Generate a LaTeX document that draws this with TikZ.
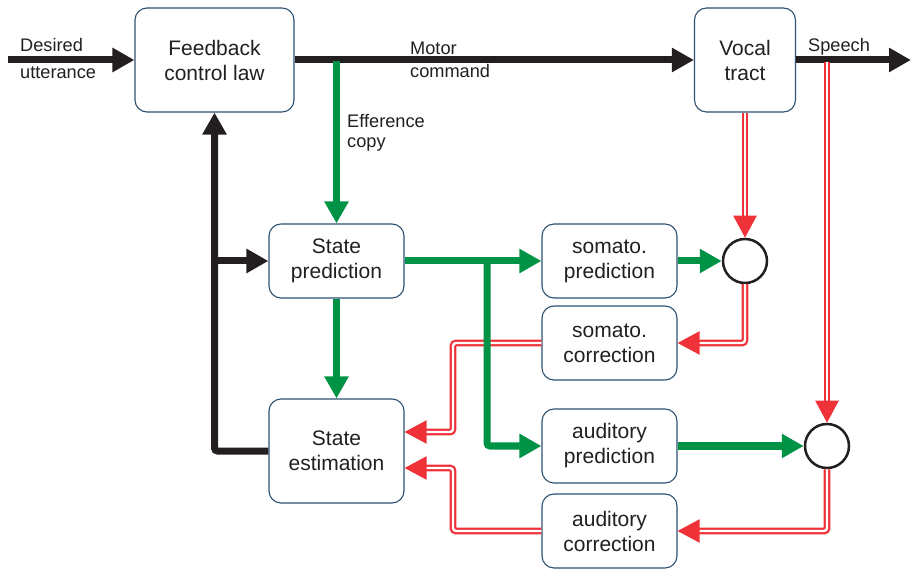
\documentclass[tikz,border=0pt]{standalone}
\usepackage{fontspec}
\setmainfont{Liberation Sans}
\usetikzlibrary{arrows.meta}
\definecolor{ink}{RGB}{35,31,32}
\definecolor{grn}{RGB}{0,146,69}
\definecolor{rd}{RGB}{238,50,56}
\definecolor{bord}{RGB}{45,80,115}
\begin{document}
\begin{tikzpicture}[x=1pt,y=-1pt,
 box/.style={draw=bord, line width=1.1pt, rounded corners=12pt, fill=white, text=ink, align=center, font=\fontsize{21}{25}\selectfont, minimum width=135pt, minimum height=74pt, inner sep=0pt},
 lbl/.style={text=ink, font=\fontsize{18.2}{22}\selectfont, inner sep=0pt},
 blk/.style={draw=ink, line width=7pt, -{Triangle[length=22pt,width=23pt]}, rounded corners=3pt},
 gr/.style={draw=grn, line width=7pt, -{Triangle[length=22pt,width=23pt]}, rounded corners=3pt},
 rl/.style={draw=rd, double=white, line width=2.2pt, double distance=2.4pt, -{Triangle[length=22pt,width=23pt]}, rounded corners=3pt},
 sum/.style={circle, draw=ink, line width=2.5pt, minimum size=44pt, inner sep=0pt, fill=white}
]
\useasboundingbox (0,0) rectangle (911,569);
\node[box, minimum width=159pt, minimum height=104pt] (fcl) at (214.5,60) {Feedback\\control law};
\node[box, minimum width=101pt, minimum height=104pt] (vt) at (745,60) {Vocal\\tract};
\node[box] (sp) at (336.5,261) {State\\prediction};
\node[box, minimum height=104pt] (se) at (336.5,451) {State\\estimation};
\node[box] (smp) at (609.5,261) {somato.\\prediction};
\node[box] (smc) at (609.5,343) {somato.\\correction};
\node[box] (adp) at (609.5,446) {auditory\\prediction};
\node[box] (adc) at (609.5,531) {auditory\\correction};
\node[sum] (s1) at (745,261) {};
\node[sum] (s2) at (827,446) {};
\coordinate (in) at (8,60);
\coordinate (out) at (911,60);
\coordinate (ef) at (336.5,61);
\coordinate (sj) at (827,62);
\coordinate (fb) at (214.5,261);
\coordinate (gj) at (487,261);
\coordinate (ra) at (453,432);
\coordinate (rb) at (453,468);
% black
\draw[blk] (in) -- (fcl.west);
\draw[blk] (fcl.east) -- (vt.west);
\draw[blk] (vt.east) -- (out);
\draw[blk] (se.west) -| (fcl.south);
\draw[blk] (fb) -- (sp.west);
% red
\draw[rl] (vt.south) -- (s1.north);
\draw[rl] (sj) -- (s2.north);
\draw[rl] (s1.south) |- (smc.east);
\draw[rl] (s2.south) |- (adc.east);
\draw[rl] (smc.west) -| (ra) -- (se.east |- ra);
\draw[rl] (adc.west) -| (rb) -- (se.east |- rb);
% green
\draw[gr] (ef) -- (sp.north);
\draw[gr] (sp.south) -- (se.north);
\draw[gr] (sp.east) -- (smp.west);
\draw[gr] (gj) |- (adp.west);
\draw[gr] (smp.east) -- (s1.west);
\draw[gr] (adp.east) -- (s2.west);
% labels
\node[lbl, anchor=base west] (l1) at (20,52) {Desired};
\node[lbl, anchor=base west] (l2) at (20,79) {utterance};
\node[lbl, anchor=base west] (l3) at (410,55) {Motor};
\node[lbl, anchor=base west] (l4) at (410,78) {command};
\node[lbl, anchor=base west] (l5) at (808,52) {Speech};
\node[lbl, anchor=base west] (l6) at (347,128) {Efference};
\node[lbl, anchor=base west] (l7) at (347,148) {copy};
\end{tikzpicture}
\end{document}
